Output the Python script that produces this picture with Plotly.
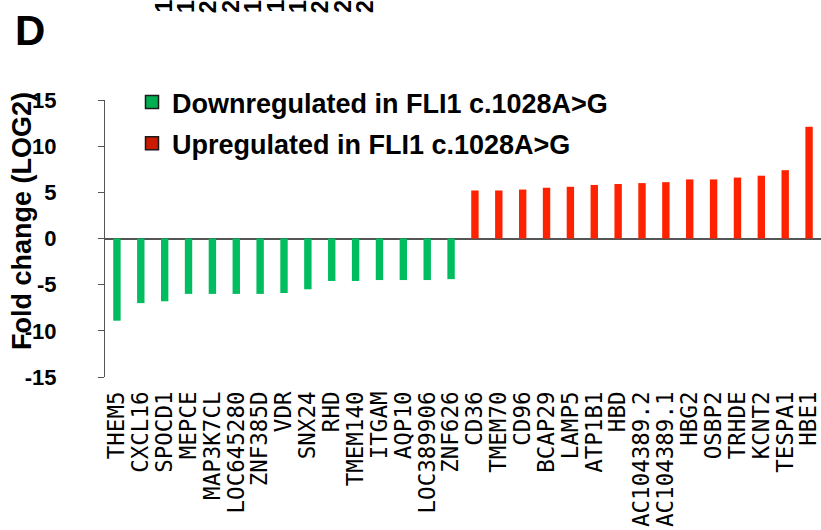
import plotly.graph_objects as go

genes = ["THEM5", "CXCL16", "SPOCD1", "MEPCE", "MAP3K7CL", "LOC645280", "ZNF385D",
         "VDR", "SNX24", "RHD", "TMEM140", "ITGAM", "AQP10", "LOC389906", "ZNF626",
         "CD36", "TMEM70", "CD96", "BCAP29", "LAMP5", "ATP1B1", "HBD", "AC104389.2",
         "AC104389.1", "HBG2", "OSBP2", "TRHDE", "KCNT2", "TESPA1", "HBE1"]
fold_change = [-8.9, -7.0, -6.8, -6.0, -6.0, -6.0, -6.0,
               -5.9, -5.5, -4.6, -4.6, -4.5, -4.5, -4.5, -4.4,
               5.2, 5.2, 5.3, 5.5, 5.6, 5.8, 5.9, 6.0,
               6.1, 6.4, 6.4, 6.6, 6.8, 7.4, 12.1]
y_ticks = [-15, -10, -5, 0, 5, 10, 15]
top_digits = ["1", "1", "2", "2", "1", "1", "1", "2", "2", "2"]

GREEN = "#00bd5f"
RED = "#ff2200"
bar_colors = [GREEN if v < 0 else RED for v in fold_change]

fig = go.Figure()
fig.add_trace(go.Bar(x=genes, y=fold_change, marker=dict(color=bar_colors, line=dict(width=0)),
                     width=0.31, showlegend=False))
fig.add_trace(go.Scatter(x=[None], y=[None], mode="markers", name="<b>Downregulated in FLI1 c.1028A>G</b>",
                         marker=dict(symbol="square", size=13, color="#00b050",
                                     line=dict(color="#1a1a1a", width=1.5)), legendgroup="a"))
fig.add_trace(go.Scatter(x=[None], y=[None], mode="markers", name="<b>Upregulated in FLI1 c.1028A>G</b>",
                         marker=dict(symbol="square", size=13, color="#cc1a00",
                                     line=dict(color="#1a1a1a", width=1.5)), legendgroup="b"))

L, R, T, B = 105, 0, 100, 153
W, H = 821, 530
pw, ph = W - L - R, H - T - B

def px(xp):
    return (xp - L) / pw

def py(yp):
    return (H - B - yp) / ph

annotations = [
    dict(text="<b>D</b>", x=px(13), y=py(5), xref="paper", yref="paper", xanchor="left", yanchor="top",
         showarrow=False, font=dict(family="Liberation Sans, Arial", size=42, color="black")),
    dict(text="<b>Fold change (LOG2)</b>", x=px(22), y=py(221), xref="paper", yref="paper",
         textangle=-90, showarrow=False, xanchor="center", yanchor="middle",
         font=dict(family="Liberation Sans, Arial", size=27, color="black")),
]
for i, d in enumerate(top_digits):
    annotations.append(dict(text="<b>" + d + "</b>", x=px(163 + i * 22.4), y=py(15), xref="paper", yref="paper",
                            textangle=-90, showarrow=False, xanchor="center", yanchor="bottom",
                            font=dict(family="Liberation Sans, Arial", size=23, color="black")))

fig.update_layout(
    width=W, height=H,
    margin=dict(l=L, r=R, t=T, b=B, pad=0, autoexpand=False),
    plot_bgcolor="white", paper_bgcolor="white",
    legend=dict(x=px(132), y=py(78), xanchor="left", yanchor="top",
                font=dict(family="Liberation Sans, Arial", size=27, color="black"),
                traceorder="grouped", tracegroupgap=3, bgcolor="rgba(0,0,0,0)"),
    annotations=annotations,
    xaxis=dict(tickangle=-90, showline=False, showgrid=False, zeroline=False, ticks="",
               tickmode="array", tickvals=genes, ticktext=genes, automargin=False,
               tickfont=dict(family="DejaVu Sans Mono", size=22.5, color="black"),
               ticklabelstandoff=9, range=[-0.5, len(genes) - 0.5]),
    yaxis=dict(range=[-15, 15], tickvals=y_ticks, ticktext=["<b>%d</b>" % v for v in y_ticks],
               showline=True, linecolor="#555555", linewidth=1.2, showgrid=False, automargin=False,
               ticks="outside", ticklen=6, tickcolor="#555555", tickwidth=1.2,
               zeroline=True, zerolinecolor="#555555", zerolinewidth=2,
               tickfont=dict(family="Liberation Sans, Arial", size=22, color="black"),
               ticklabelstandoff=37),
)

fig.write_html("out.html", config={"displayModeBar": False},
               post_script="document.body.style.margin='0';document.body.style.padding='0';")
